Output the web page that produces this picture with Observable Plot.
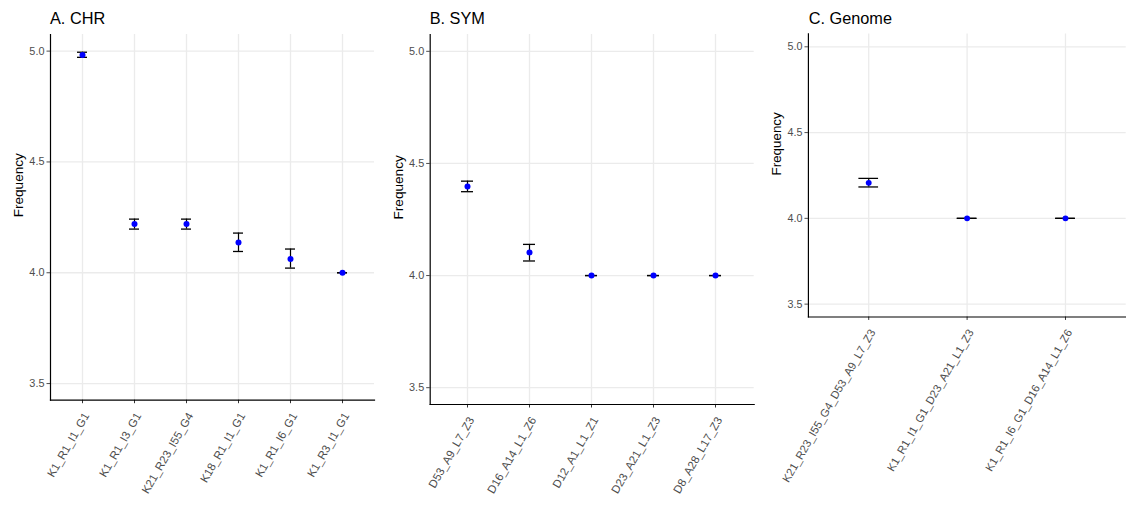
<!DOCTYPE html>
<html>
<head>
<meta charset="utf-8">
<script src="https://cdn.jsdelivr.net/npm/d3@7"></script>
<script src="https://cdn.jsdelivr.net/npm/@observablehq/plot@0.6"></script>
<style>
  html, body { margin: 0; padding: 0; background: #fff; }
  #wrap { position: relative; width: 1126px; height: 508px; overflow: hidden; font-family: 'Liberation Sans', Arial, sans-serif; }
  .panel { position: absolute; top: 0; }
  .title { position: absolute; top: 8.6px; font-size: 16.3px; color: #000; white-space: nowrap; }
</style>
</head>
<body>
<div id="wrap"></div>
<script>
const yTicks = [3.5, 4.0, 4.5, 5.0];

const chrCats = ["K1_R1_I1_G1", "K1_R1_I3_G1", "K21_R23_I55_G4", "K18_R1_I1_G1", "K1_R1_I6_G1", "K1_R3_I1_G1"];
const chrMean = [4.983, 4.220, 4.220, 4.136, 4.062, 4.000];
const chrLo   = [4.972, 4.197, 4.197, 4.096, 4.021, 4.000];
const chrHi   = [4.995, 4.242, 4.242, 4.179, 4.107, 4.000];

const symCats = ["D53_A9_L7_Z3", "D16_A14_L1_Z6", "D12_A1_L1_Z1", "D23_A21_L1_Z3", "D8_A28_L17_Z3"];
const symMean = [4.397, 4.103, 4.000, 4.000, 4.000];
const symLo   = [4.374, 4.065, 4.000, 4.000, 4.000];
const symHi   = [4.421, 4.139, 4.000, 4.000, 4.000];

const genCats = ["K21_R23_I55_G4_D53_A9_L7_Z3", "K1_R1_I1_G1_D23_A21_L1_Z3", "K1_R1_I6_G1_D16_A14_L1_Z6"];
const genMean = [4.207, 4.000, 4.000];
const genLo   = [4.183, 4.000, 4.000];
const genHi   = [4.233, 4.000, 4.000];

const titles = ["A. CHR", "B. SYM", "C. Genome"];

const FONT = "'Liberation Sans', Arial, sans-serif";

function panel(cats, mean, lo, hi, title, geo) {
  const data = cats.map((c, i) => ({cat: c, mean: mean[i], lo: lo[i], hi: hi[i]}));
  const chart = Plot.plot({
    width: geo.width,
    height: 508,
    marginTop: 34,
    marginLeft: geo.marginLeft,
    marginRight: geo.marginRight,
    marginBottom: geo.marginBottom,
    style: {fontFamily: FONT, background: "transparent", overflow: "visible"},
    x: {type: "band", domain: cats, paddingInner: 0.8, paddingOuter: 0.5, label: null},
    y: {domain: [3.425, 5.075], label: null},
    marks: [
      Plot.gridY(yTicks, {stroke: "#ebebeb", strokeOpacity: 1, strokeWidth: 1.3}),
      Plot.gridX(cats, {stroke: "#ebebeb", strokeOpacity: 1, strokeWidth: 1.3}),
      Plot.ruleX(data, {x: "cat", y1: "lo", y2: "hi", stroke: "black", strokeWidth: 1.2}),
      Plot.tickY(data, {x: "cat", y: "lo", stroke: "black", strokeWidth: 1.3}),
      Plot.tickY(data, {x: "cat", y: "hi", stroke: "black", strokeWidth: 1.3}),
      Plot.dot(data, {x: "cat", y: "mean", r: 3, fill: "blue", stroke: "none"}),
      Plot.axisY(yTicks, {tickFormat: d => d.toFixed(1), fontSize: 10.9, color: "#4d4d4d", tickSize: 3.5, tickPadding: 2.5, label: null}),
      Plot.axisX({tickFormat: () => "", color: "#333", tickSize: 3.5, label: null}),
      Plot.axisX({tickRotate: -60, fontSize: 11.4, color: "#4d4d4d", tickSize: 0, tickPadding: 5.5, dx: 4, dy: 8, label: null}),
      Plot.frame({anchor: "left", stroke: "black", strokeWidth: 1.2}),
      Plot.frame({anchor: "bottom", stroke: "black", strokeWidth: 1.2}),
      Plot.text(["Frequency"], {frameAnchor: "left", rotate: -90, dx: -32, fontSize: 13.6, fill: "black"})
    ]
  });
  const div = document.createElement("div");
  div.className = "panel";
  div.style.left = geo.left + "px";
  div.appendChild(chart);
  const t = document.createElement("div");
  t.className = "title";
  t.style.left = (geo.left + geo.marginLeft) + "px";
  t.textContent = title;
  const wrap = document.getElementById("wrap");
  wrap.appendChild(div);
  wrap.appendChild(t);
}

panel(chrCats, chrMean, chrLo, chrHi, titles[0], {left: 0, width: 375, marginLeft: 50, marginRight: 1, marginBottom: 108.3});
panel(symCats, symMean, symLo, symHi, titles[1], {left: 380, width: 375, marginLeft: 49.7, marginRight: 1.3, marginBottom: 104});
panel(genCats, genMean, genLo, genHi, titles[2], {left: 760, width: 372, marginLeft: 48.7, marginRight: 0.3, marginBottom: 186.3});
</script>
</body>
</html>
